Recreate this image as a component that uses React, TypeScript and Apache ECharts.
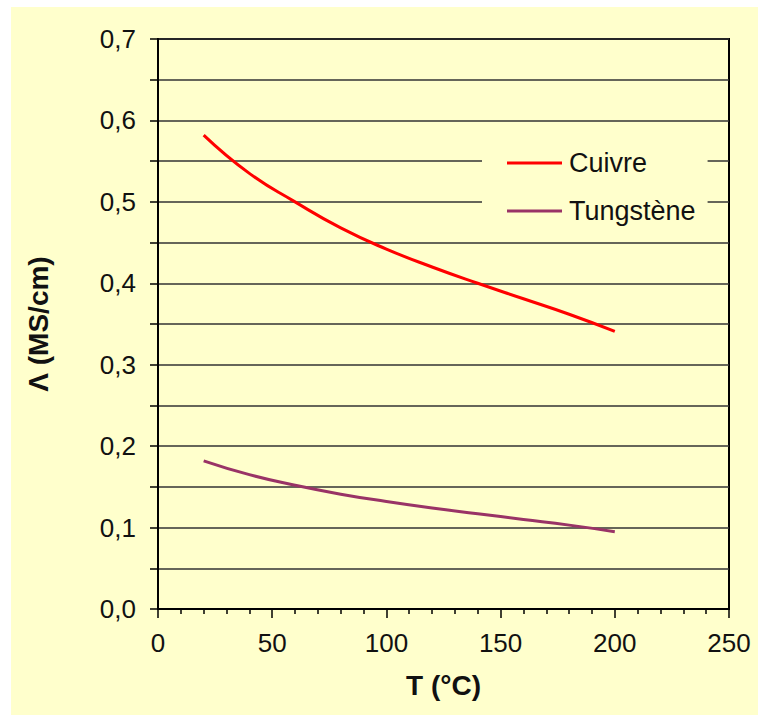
import React, { useEffect, useRef } from "react";
import * as echarts from "echarts";

const temperatures = [20, 40, 60, 80, 100, 120, 140, 160, 180, 200];
const cuivre = [0.582, 0.535, 0.5, 0.468, 0.442, 0.42, 0.4, 0.381, 0.362, 0.341];
const tungstene = [0.182, 0.165, 0.152, 0.141, 0.132, 0.124, 0.117, 0.11, 0.103, 0.095];
const seriesNames = ["Cuivre", "Tungstène"];

const FONT = "'Liberation Sans', Arial, sans-serif";
const BG = "#FFFFCC";

export default function App() {
  const ref = useRef<HTMLDivElement>(null);
  useEffect(() => {
    if (!ref.current) return;
    const chart = echarts.init(ref.current, undefined, { renderer: "svg" });
    chart.setOption({
      animation: false,
      backgroundColor: BG,
      textStyle: { fontFamily: FONT },
      grid: {
        left: 147,
        top: 32,
        right: 29,
        bottom: 106,
        show: true,
        borderColor: "#000",
        borderWidth: 2,
        backgroundColor: "transparent",
      },
      legend: {
        orient: "vertical",
        left: 471,
        top: 131,
        padding: [10, 12, 10, 25],
        backgroundColor: BG,
        itemGap: 18,
        icon: "rect",
        itemWidth: 55,
        itemHeight: 3,
        data: seriesNames,
        textStyle: {
          fontFamily: FONT,
          fontSize: 27,
          color: "#111",
          lineHeight: 30,
          padding: [0, 0, 0, 2],
        },
      },
      xAxis: {
        type: "value",
        min: 0,
        max: 250,
        interval: 50,
        name: "T (°C)",
        nameLocation: "middle",
        nameGap: 62,
        nameTextStyle: { fontFamily: FONT, fontSize: 28, fontWeight: "bold", color: "#111" },
        axisLine: { show: true, lineStyle: { color: "#000", width: 2 } },
        axisTick: { show: true, length: 9, lineStyle: { color: "#000", width: 1.5 } },
        minorTick: { show: true, splitNumber: 5, length: 5, lineStyle: { color: "#000", width: 1.5 } },
        axisLabel: { fontFamily: FONT, fontSize: 26, color: "#111", margin: 21 },
        splitLine: { show: false },
      },
      yAxis: {
        type: "value",
        min: 0,
        max: 0.7,
        interval: 0.05,
        name: "Λ (MS/cm)",
        nameLocation: "middle",
        nameGap: 106,
        nameRotate: 90,
        nameTextStyle: { fontFamily: FONT, fontSize: 28, fontWeight: "bold", color: "#111" },
        axisLine: { show: true, lineStyle: { color: "#000", width: 2 } },
        axisTick: { show: true, length: 8, lineStyle: { color: "#000", width: 1.5 } },
        axisLabel: {
          fontFamily: FONT,
          fontSize: 26,
          color: "#111",
          margin: 22,
          formatter: (v: number) => {
            const r = Math.round(v * 100);
            if (r % 10 !== 0) return "";
            return (r / 100).toFixed(1).replace(".", ",");
          },
        },
        splitLine: { show: true, lineStyle: { color: "#333", width: 1.6 } },
      },
      series: [
        {
          name: seriesNames[0],
          type: "line",
          smooth: true,
          showSymbol: false,
          data: temperatures.map((t, i) => [t, cuivre[i]]),
          lineStyle: { color: "#FF0000", width: 3 },
          itemStyle: { color: "#FF0000" },
        },
        {
          name: seriesNames[1],
          type: "line",
          smooth: true,
          showSymbol: false,
          data: temperatures.map((t, i) => [t, tungstene[i]]),
          lineStyle: { color: "#993366", width: 3 },
          itemStyle: { color: "#993366" },
        },
      ],
    });
    return () => chart.dispose();
  }, []);
  return (
    <div style={{ position: "fixed", left: 0, top: 0, width: 758, height: 715, background: "#fff" }}>
      <div ref={ref} style={{ position: "absolute", left: 11, top: 7, width: 747, height: 708 }} />
    </div>
  );
}
